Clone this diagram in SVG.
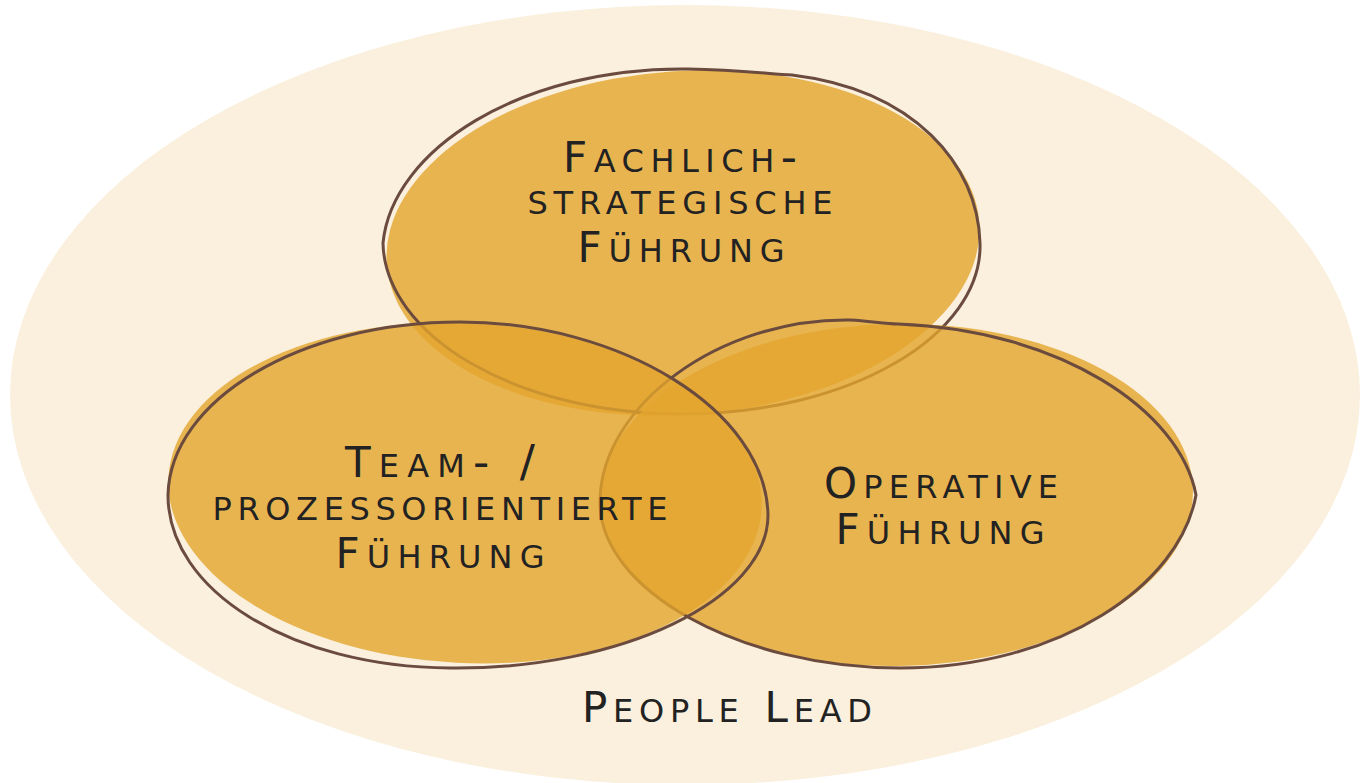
<svg xmlns="http://www.w3.org/2000/svg" width="1360" height="783" viewBox="0 0 1360 783">
  <style>
    .fill { fill: #E3A52D; fill-opacity: 0.8; }
    .outline { fill: none; stroke: #6B4B3E; stroke-width: 3; stroke-linejoin: round; stroke-linecap: round; }
    .label { font-family: "DejaVu Sans", "Open Sans", sans-serif; font-size: 45px; font-variant: small-caps; fill: #222; text-anchor: middle; }
    .cap { font-size: 42px; }
  </style>
  <rect x="0" y="0" width="1360" height="783" fill="#ffffff"/>
  <ellipse id="background" cx="685" cy="395" rx="675" ry="390" fill="#FAF0DD"/>

  <g id="node-fachlich">
    <ellipse class="fill" cx="683" cy="243" rx="297" ry="172" transform="rotate(-4 683 243)"/>
    <path class="outline" d="M 383,243 C 392,150 520,67 688,69 C 740,70 770,74 792,75 C 915,90 978,165 980,243 C 983,335 850,414 682,414 C 515,414 385,335 383,243 Z"/>
  </g>

  <g id="node-operative">
    <ellipse class="fill" cx="897" cy="495" rx="296" ry="171" transform="rotate(-1 897 495)"/>
    <path class="outline" d="M 600,500 C 602,405 720,318 850,320 C 870,321 885,324 898,324 C 1060,330 1180,410 1196,495 C 1180,585 1060,668 900,668 C 740,668 598,590 600,500 Z"/>
  </g>

  <g id="node-team">
    <ellipse class="fill" cx="465" cy="493" rx="297" ry="170" transform="rotate(3 465 493)"/>
    <path class="outline" d="M 168,495 C 170,400 300,322 460,322 C 620,322 766,410 768,515 C 768,600 620,670 450,668 C 290,667 168,590 168,495 Z"/>
  </g>

  <g id="labels">
    <text class="label" x="680" y="172" textLength="234" lengthAdjust="spacing"><tspan class="cap">F</tspan>achlich-</text>
    <text class="label" x="680" y="214" textLength="305" lengthAdjust="spacing">strategische</text>
    <text class="label" x="681" y="262" textLength="207" lengthAdjust="spacing"><tspan class="cap">F</tspan>ührung</text>

    <text class="label" x="440" y="477" textLength="190" lengthAdjust="spacing"><tspan class="cap">T</tspan>eam- /</text>
    <text class="label" x="440" y="520" textLength="455" lengthAdjust="spacing">prozessorientierte</text>
    <text class="label" x="440" y="568" textLength="209" lengthAdjust="spacing"><tspan class="cap">F</tspan>ührung</text>

    <text class="label" x="941" y="498" textLength="234" lengthAdjust="spacing"><tspan class="cap">O</tspan>perative</text>
    <text class="label" x="940" y="544" textLength="209" lengthAdjust="spacing"><tspan class="cap">F</tspan>ührung</text>

    <text id="people-lead" class="label" x="727" y="722" textLength="290" lengthAdjust="spacing"><tspan class="cap">P</tspan>eople <tspan class="cap">L</tspan>ead</text>
  </g>
</svg>
